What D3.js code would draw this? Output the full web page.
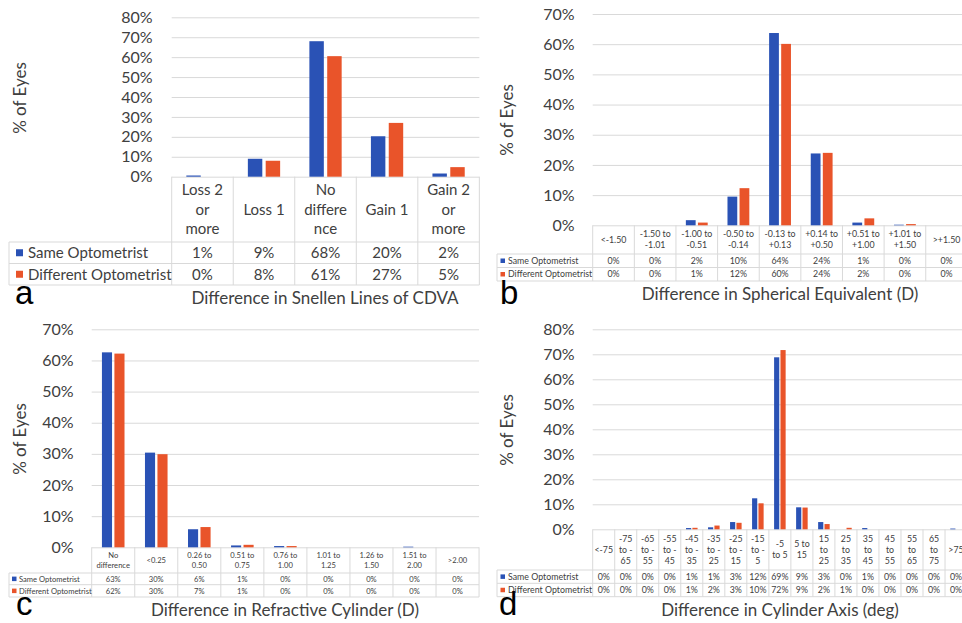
<!DOCTYPE html>
<html>
<head>
<meta charset="utf-8">
<script src="https://cdn.jsdelivr.net/npm/d3@7"></script>
<style>
  html, body { margin: 0; padding: 0; background: #fff; }
  svg { display: block; }
  text { font-family: Lato, "Open Sans", sans-serif; fill: #404040; }
  .letter { font-family: "Liberation Sans", Arial, sans-serif; fill: #000; }
</style>
</head>
<body>
<svg id="chart" width="962" height="623"></svg>
<script>
// ---------- DATA ----------
const seriesNames = ["Same Optometrist", "Different Optometrist"];

// (a) Difference in Snellen Lines of CDVA
const aCategories = [["Loss 2", "or", "more"], ["Loss 1"], ["No", "differe", "nce"], ["Gain 1"], ["Gain 2", "or", "more"]];
const aSame = [0.6, 9, 68, 20.3, 1.6];
const aDiff = [0, 8, 60.5, 27, 4.8];
const aTicks = [0, 10, 20, 30, 40, 50, 60, 70, 80];

// (b) Difference in Spherical Equivalent (D)
const bCategories = [["<-1.50"], ["-1.50 to", "-1.01"], ["-1.00 to", "-0.51"], ["-0.50 to", "-0.14"], ["-0.13 to", "+0.13"], ["+0.14 to", "+0.50"], ["+0.51 to", "+1.00"], ["+1.01 to", "+1.50"], [">+1.50"]];
const bSame = [0, 0, 1.7, 9.5, 63.7, 23.8, 0.9, 0.2, 0];
const bDiff = [0, 0, 0.9, 12.3, 60.1, 24, 2.3, 0.4, 0];
const bTicks = [0, 10, 20, 30, 40, 50, 60, 70];

// (c) Difference in Refractive Cylinder (D)
const cCategories = [["No", "difference"], ["<0.25"], ["0.26 to", "0.50"], ["0.51 to", "0.75"], ["0.76 to", "1.00"], ["1.01 to", "1.25"], ["1.26 to", "1.50"], ["1.51 to", "2.00"], [">2.00"]];
const cSame = [62.6, 30.4, 5.8, 0.6, 0.4, 0, 0, 0.2, 0];
const cDiff = [62.2, 29.9, 6.5, 0.8, 0.4, 0, 0, 0, 0];
const cTicks = [0, 10, 20, 30, 40, 50, 60, 70];

// (d) Difference in Cylinder Axis (deg)
const dCategories = [["<-75"], ["-75", "to -", "65"], ["-65", "to -", "55"], ["-55", "to -", "45"], ["-45", "to -", "35"], ["-35", "to -", "25"], ["-25", "to -", "15"], ["-15", "to -", "5"], ["-5", "to 5"], ["5 to", "15"], ["15", "to", "25"], ["25", "to", "35"], ["35", "to", "45"], ["45", "to", "55"], ["55", "to", "65"], ["65", "to", "75"], [">75"]];
const dSame = [0, 0, 0, 0, 0.5, 0.8, 2.9, 12.4, 68.8, 8.8, 2.9, 0, 0.5, 0, 0, 0, 0.3];
const dDiff = [0, 0, 0, 0, 0.6, 1.5, 2.6, 10.4, 71.7, 8.7, 2.1, 0.6, 0, 0, 0, 0, 0];
const dTicks = [0, 10, 20, 30, 40, 50, 60, 70, 80];

const xTitles = ["Difference in Snellen Lines of CDVA", "Difference in Spherical Equivalent (D)", "Difference in Refractive Cylinder (D)", "Difference in Cylinder Axis (deg)"];
const yTitle = "% of Eyes";
const letters = ["a", "b", "c", "d"];

// ---------- STYLE / LAYOUT ----------
const colors = ["#2a52b5", "#e9542a"];
const gridColor = "#d9d9d9";

const panels = [
  { cats: aCategories, same: aSame, diff: aDiff, ticks: aTicks, title: xTitles[0], letter: letters[0],
    x0: 171.7, catW: 61.53, zeroY: 176.7, topY: 17.3,
    headerBottom: 242, row1: 263.5, row2: 285, legendLeft: 9,
    tickPad: 19, tickFont: 16, tableFont: 15, lh: 19.5,
    swatchX: 16, swatch: 7, legendTextX: 28,
    yTitleX: 20, yTitleY: 98, titleX: 325, titleY: 304, titleFont: 17,
    letterX: 15, letterY: 304 },
  { cats: bCategories, same: bSame, diff: bDiff, ticks: bTicks, title: xTitles[1], letter: letters[1],
    x0: 592.7, catW: 41.63, zeroY: 225.3, topY: 14,
    headerBottom: 254, row1: 267.5, row2: 281, legendLeft: 497,
    tickPad: 18, tickFont: 16, tableFont: 8.8, lh: 11.3,
    swatchX: 500.5, swatch: 4.5, legendTextX: 508,
    yTitleX: 507, yTitleY: 120, titleX: 780, titleY: 300, titleFont: 17,
    letterX: 500, letterY: 304 },
  { cats: cCategories, same: cSame, diff: cDiff, ticks: cTicks, title: xTitles[2], letter: letters[2],
    x0: 91.7, catW: 43.04, zeroY: 547.3, topY: 329.3,
    headerBottom: 573, row1: 584.7, row2: 597, legendLeft: 9,
    tickPad: 18, tickFont: 16, tableFont: 7.6, lh: 10,
    swatchX: 12, swatch: 4.5, legendTextX: 19,
    yTitleX: 20, yTitleY: 439, titleX: 285, titleY: 616, titleFont: 17,
    letterX: 16, letterY: 615 },
  { cats: dCategories, same: dSame, diff: dDiff, ticks: dTicks, title: xTitles[3], letter: letters[3],
    x0: 592.7, catW: 22.02, zeroY: 529.3, topY: 329.3,
    headerBottom: 570, row1: 583.3, row2: 596.7, legendLeft: 497,
    tickPad: 18, tickFont: 16, tableFont: 8.8, lh: 11.2,
    swatchX: 500.5, swatch: 4.5, legendTextX: 508,
    yTitleX: 507, yTitleY: 430, titleX: 780, titleY: 616, titleFont: 17,
    letterX: 499, letterY: 615 }
];

const svg = d3.select("#chart");

panels.forEach(p => {
  const g = svg.append("g");
  const n = p.cats.length;
  const idx = d3.range(n);
  const x = d3.scaleBand().domain(idx).range([p.x0, p.x0 + n * p.catW]).paddingInner(0).paddingOuter(0);
  const yMax = p.ticks[p.ticks.length - 1];
  const y = d3.scaleLinear().domain([0, yMax]).range([p.zeroY, p.topY]);
  const sub = d3.scaleBand().domain([0, 1]).range([0, x.bandwidth()]).paddingInner(0.19).paddingOuter(0.82);
  const x1 = p.x0 + n * p.catW;

  // gridlines
  const grid = g.append("g").attr("transform", `translate(${p.x0},0)`)
    .call(d3.axisLeft(y).tickValues(p.ticks).tickSize(-(x1 - p.x0)).tickFormat(""));
  grid.select(".domain").remove();
  grid.selectAll("line").attr("stroke", gridColor).attr("stroke-width", 1);

  // y axis labels
  const yAxis = g.append("g").attr("transform", `translate(${p.x0},0)`)
    .call(d3.axisLeft(y).tickValues(p.ticks).tickSize(0).tickPadding(p.tickPad).tickFormat(d => d + "%"));
  yAxis.select(".domain").remove();
  yAxis.selectAll("text").style("font-family", "Lato, sans-serif").style("font-size", p.tickFont + "px").attr("fill", "#404040");

  // y title
  g.append("text")
    .attr("transform", `translate(${p.yTitleX},${p.yTitleY}) rotate(-90)`)
    .attr("text-anchor", "middle").attr("dy", "0.35em")
    .style("font-size", "17px").text(yTitle);

  // bars
  const series = [p.same, p.diff];
  series.forEach((vals, si) => {
    g.append("g").selectAll("rect").data(vals).join("rect")
      .attr("x", (d, i) => x(i) + sub(si))
      .attr("width", sub.bandwidth())
      .attr("y", d => y(d))
      .attr("height", d => y(0) - y(d))
      .attr("fill", colors[si]);
  });

  // table lines
  const tl = g.append("g").attr("stroke", gridColor).attr("stroke-width", 1);
  [p.headerBottom, p.row1, p.row2].forEach(yy => {
    tl.append("line").attr("x1", p.legendLeft).attr("x2", x1).attr("y1", yy).attr("y2", yy);
  });
  tl.append("line").attr("x1", p.legendLeft).attr("x2", p.legendLeft).attr("y1", p.headerBottom).attr("y2", p.row2);
  d3.range(n + 1).forEach(i => {
    const xx = p.x0 + i * x.step();
    tl.append("line").attr("x1", xx).attr("x2", xx).attr("y1", p.zeroY).attr("y2", p.row2);
  });

  // header labels
  const hc = (p.zeroY + p.headerBottom) / 2;
  p.cats.forEach((lines, i) => {
    const cx = x(i) + x.bandwidth() / 2;
    const t = g.append("text").attr("text-anchor", "middle").style("font-size", p.tableFont + "px");
    lines.forEach((ln, li) => {
      t.append("tspan").attr("x", cx)
        .attr("y", hc + (li - (lines.length - 1) / 2) * p.lh)
        .attr("dy", "0.35em").text(ln);
    });
  });

  // data rows
  const rowCenters = [(p.headerBottom + p.row1) / 2, (p.row1 + p.row2) / 2];
  series.forEach((vals, si) => {
    g.append("g").selectAll("text").data(vals).join("text")
      .attr("x", (d, i) => x(i) + x.bandwidth() / 2)
      .attr("y", rowCenters[si]).attr("dy", "0.35em")
      .attr("text-anchor", "middle").style("font-size", p.tableFont + "px")
      .text(d => Math.round(d) + "%");
    g.append("rect").attr("x", p.swatchX).attr("y", rowCenters[si] - p.swatch / 2)
      .attr("width", p.swatch).attr("height", p.swatch).attr("fill", colors[si]);
    g.append("text").attr("x", p.legendTextX).attr("y", rowCenters[si]).attr("dy", "0.35em")
      .style("font-size", p.tableFont + "px").text(seriesNames[si]);
  });

  // x title
  g.append("text").attr("x", p.titleX).attr("y", p.titleY).attr("text-anchor", "middle")
    .style("font-size", p.titleFont + "px").text(p.title);

  // panel letter
  g.append("text").attr("class", "letter").attr("x", p.letterX).attr("y", p.letterY)
    .style("font-size", "33px").text(p.letter);
});
</script>
</body>
</html>
